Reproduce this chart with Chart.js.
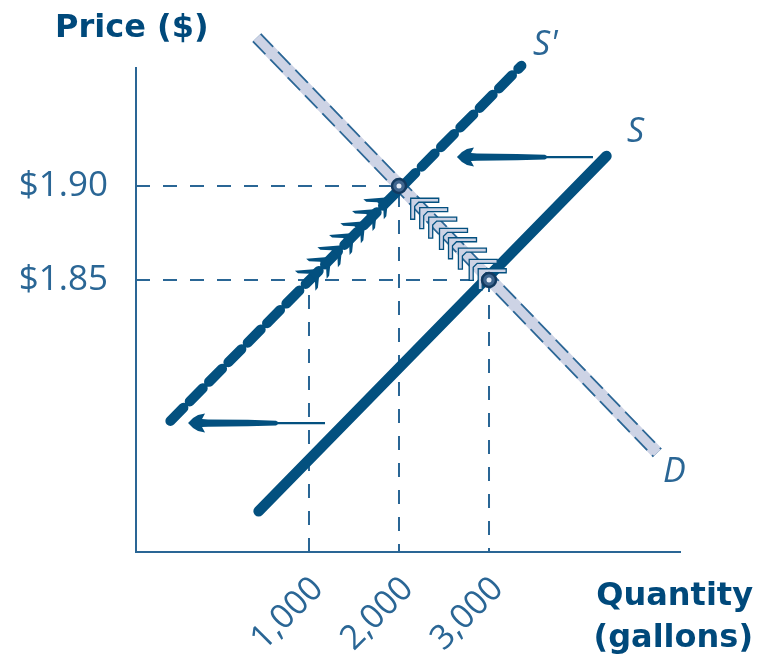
<!DOCTYPE html>
<html>
<head>
<meta charset="utf-8">
<script src="https://cdn.jsdelivr.net/npm/chart.js@4.4.1/dist/chart.umd.min.js"></script>
<style>
  html, body { margin: 0; padding: 0; background: #ffffff; }
  #wrap { width: 773px; height: 661px; }
  canvas { display: block; }
</style>
</head>
<body>
<div id="wrap"><canvas id="chart" width="773" height="661"></canvas></div>
<script>
// Axis ranges and tick values
const quantityRange = [-922, 5122];
const priceRange = [1.7053, 1.9628];
const quantityTicks = [1000, 2000, 3000];
const priceTicks = [1.85, 1.90];

// Curves: [quantity, price] end points
const demandCurve = [[420, 1.979], [4870, 1.758]];
const supplyCurve = [[440, 1.727], [4305, 1.916]];
const shiftedSupplyCurve = [[-540, 1.775], [3360, 1.964]];

// Equilibria before and after the supply shift
const equilibria = [[2000, 1.90], [3000, 1.85]];

// Dashed guide lines to the axes
const guideHigh = [[-922, 1.90], [2000, 1.90], [2000, 1.7053]];
const guideLow = [[-922, 1.85], [3000, 1.85], [3000, 1.7053]];
const guideShort = [[1000, 1.7053], [1000, 1.85]];

// Small arrowheads: quantity supplied rising along S', quantity demanded falling along D
const supplyMoves = [[1110, 1.8555], [1235, 1.8618], [1360, 1.868], [1490, 1.8745], [1615, 1.8808], [1745, 1.8873], [1870, 1.8935]];
const demandMoves = [[2130, 1.8935], [2230, 1.8885], [2330, 1.8835], [2450, 1.8775], [2550, 1.8725], [2660, 1.867], [2780, 1.861], [2880, 1.856]];

// Shift arrows: [tail quantity, head quantity, price]
const shiftArrows = [[4155, 2644, 1.9154], [1178, -344, 1.7739]];

// Curve names: [text, quantity, price]
const curveNames = [["S'", 3490, 1.9697], ["S", 4533, 1.9234], ["D", 4933, 1.7426]];

const DARK = '#03507f';
const MID = '#2a6695';
const LIGHT = '#cdd3e5';

const pts = arr => arr.map(([x, y]) => ({ x, y }));

function lineSet(data, extra) {
  return Object.assign({
    data: pts(data), showLine: true, pointRadius: 0, pointHoverRadius: 0,
    borderColor: DARK, borderWidth: 2, fill: false, clip: false, tension: 0
  }, extra);
}

function drawBigArrow(ctx, xTail, xHead, y) {
  const len = Math.abs(xTail - xHead);
  const dir = xTail > xHead ? 1 : -1;
  // outline measured from the head along the shaft (u) and across it (v)
  const shape = [
    [0, 0], [5, -5], [10, -8], [17, -9.5], [14, -4], [20, -3.6], [60, -3.2], [88, -2.4],
    [90, -1.1], [len, -1.1], [len, 1.1], [90, 1.1], [88, 2.4], [60, 3.2], [20, 3.6],
    [14, 4], [17, 9.5], [10, 8], [5, 5]
  ];
  ctx.save();
  ctx.fillStyle = DARK;
  ctx.beginPath();
  shape.forEach(([u, v], i) => {
    const px = xHead + dir * u, py = y + v;
    if (i === 0) ctx.moveTo(px, py); else ctx.lineTo(px, py);
  });
  ctx.closePath();
  ctx.fill();
  ctx.restore();
}

// Arrowhead pointing up and to the right: one barb to the left, one hanging down
function drawSupplyMove(ctx, x, y) {
  const H = 24, V = 21;
  ctx.save();
  ctx.fillStyle = DARK;
  ctx.beginPath();
  ctx.moveTo(x + 1, y - 1);
  ctx.lineTo(x - H, y + 1);
  ctx.lineTo(x - H + 3, y + 3.5);
  ctx.lineTo(x - 10, y + 4);
  ctx.lineTo(x - 4, y + 10);
  ctx.lineTo(x - 3.5, y + V);
  ctx.lineTo(x - 1, y + V - 3);
  ctx.closePath();
  ctx.fill();
  ctx.restore();
}

// Arrowhead pointing up and to the left: one barb to the right, one hanging down
function drawDemandMove(ctx, x, y) {
  const H = 28, V = 21, t = 4;
  ctx.save();
  ctx.fillStyle = LIGHT;
  ctx.strokeStyle = DARK;
  ctx.lineWidth = 1.3;
  ctx.beginPath();
  ctx.moveTo(x, y);
  ctx.lineTo(x + H, y);
  ctx.lineTo(x + H, y + t);
  ctx.lineTo(x + t + 4, y + t);
  ctx.lineTo(x + t, y + t + 4);
  ctx.lineTo(x + t, y + V);
  ctx.lineTo(x, y + V);
  ctx.closePath();
  ctx.fill();
  ctx.stroke();
  ctx.restore();
}

const decor = {
  id: 'decor',
  afterDatasetDraw(chart, args) {
    if (chart.data.datasets[args.index].label !== 'shifted supply') return;
    const { ctx, scales: { x, y } } = chart;
    demandMoves.forEach(([q, p]) => drawDemandMove(ctx, x.getPixelForValue(q), y.getPixelForValue(p)));
    supplyMoves.forEach(([q, p]) => drawSupplyMove(ctx, x.getPixelForValue(q), y.getPixelForValue(p)));
  },
  afterDraw(chart) {
    const { ctx, scales: { x, y } } = chart;
    shiftArrows.forEach(([q1, q2, p]) =>
      drawBigArrow(ctx, x.getPixelForValue(q1), x.getPixelForValue(q2), y.getPixelForValue(p)));

    ctx.save();
    ctx.fillStyle = MID;
    ctx.font = 'italic 34px "Open Sans"';
    ctx.textAlign = 'left';
    ctx.textBaseline = 'alphabetic';
    curveNames.forEach(([t, q, p]) => ctx.fillText(t, x.getPixelForValue(q), y.getPixelForValue(p)));

    ctx.fillStyle = '#00497b';
    ctx.font = 'bold 32px "DejaVu Sans"';
    ctx.textAlign = 'left';
    ctx.fillText('Price ($)', 55, 37);
    ctx.textAlign = 'right';
    ctx.fillText('Quantity', 753, 605);
    ctx.fillText('(gallons)', 753, 647);
    ctx.restore();
  }
};

function build() {
  const ctx = document.getElementById('chart').getContext('2d');
  new Chart(ctx, {
    type: 'scatter',
    data: {
      datasets: [
        { label: 'equilibrium glint', data: pts(equilibria), pointRadius: 2.5, pointBackgroundColor: '#e4ebf6', pointBorderWidth: 0, clip: false, order: 0 },
        { label: 'equilibrium', data: pts(equilibria), pointRadius: 7, pointBackgroundColor: '#40668f', pointBorderColor: '#123a60', pointBorderWidth: 2.5, clip: false, order: 1 },
        lineSet(shiftedSupplyCurve, { label: 'shifted supply', borderWidth: 10, borderDash: [18.5, 9], borderCapStyle: 'round', order: 2 }),
        lineSet(supplyCurve, { label: 'supply', borderWidth: 10.5, borderCapStyle: 'round', order: 3 }),
        lineSet(demandCurve, { label: 'demand', borderColor: LIGHT, borderWidth: 9, order: 4 }),
        lineSet(demandCurve, { label: 'demand edge', borderColor: MID, borderWidth: 12.5, borderDash: [18, 7], order: 5 }),
        lineSet(demandCurve, { label: 'demand body', borderColor: LIGHT, borderWidth: 12.5, order: 6 }),
        lineSet(guideHigh, { label: 'guide 1.90', borderColor: MID, borderDash: [14, 13], order: 7 }),
        lineSet(guideLow, { label: 'guide 1.85', borderColor: MID, borderDash: [14, 13], order: 7 }),
        lineSet(guideShort, { label: 'guide 1000', borderColor: MID, borderDash: [14, 13], order: 7 })
      ]
    },
    options: {
      responsive: false,
      animation: false,
      events: [],
      layout: { padding: { top: 68, right: 93, left: 0, bottom: 0 } },
      plugins: { legend: { display: false }, tooltip: { enabled: false }, title: { display: false } },
      scales: {
        x: {
          type: 'linear', min: quantityRange[0], max: quantityRange[1],
          grid: { display: false, drawTicks: false },
          border: { display: true, color: MID, width: 2 },
          afterBuildTicks: s => { s.ticks = quantityTicks.map(v => ({ value: v })); },
          afterFit: s => { s.height = 109; },
          ticks: {
            autoSkip: false, minRotation: 45, maxRotation: 45, padding: 17, labelOffset: 9,
            color: MID, font: { family: 'Open Sans', size: 34 },
            callback: v => v.toLocaleString('en-US')
          }
        },
        y: {
          type: 'linear', min: priceRange[0], max: priceRange[1],
          grid: { display: false, drawTicks: false },
          border: { display: true, color: MID, width: 2 },
          afterBuildTicks: s => { s.ticks = priceTicks.map(v => ({ value: v })); },
          afterFit: s => { s.width = 136; },
          ticks: {
            autoSkip: false, padding: 28,
            color: MID, font: { family: 'Open Sans', size: 35 },
            callback: v => '$' + Number(v).toFixed(2)
          }
        }
      }
    },
    plugins: [decor]
  });
}

const fontLoads = ['34px "Open Sans"', 'italic 34px "Open Sans"', 'bold 32px "DejaVu Sans"']
  .map(f => document.fonts.load(f).catch(() => null));
Promise.all(fontLoads).then(build, build);
</script>
</body>
</html>
